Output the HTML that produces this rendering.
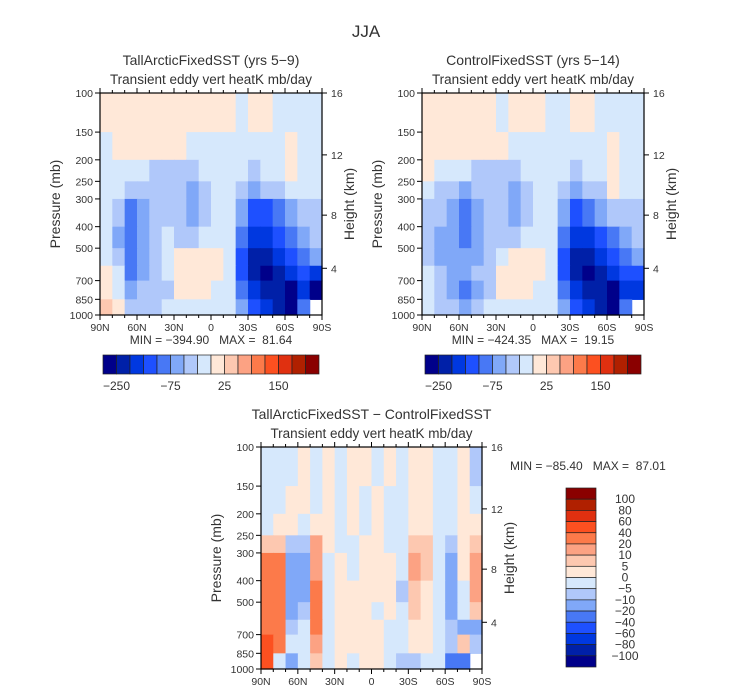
<!DOCTYPE html>
<html><head><meta charset="utf-8"><style>
html,body{margin:0;padding:0;background:#fff;}
svg{display:block;font-family:"Liberation Sans",sans-serif;}
.pre{white-space:pre;}
</style></head><body>
<svg id="fig" width="733" height="693" viewBox="0 0 733 693">
<text x="366" y="37" text-anchor="middle" font-size="17" fill="#333">JJA</text>
</svg>
<script>
// ---------- DATA ----------
const latCenters = ["85N","75N","65N","55N","45N","35N","25N","15N","5N","5S","15S","25S","35S","45S","55S","65S","75S","85S"];
const pressureEdges = [100,150,200,250,300,400,500,600,700,850,1000];
const pressureTicks = [100,150,200,250,300,400,500,700,850,1000];
const heightTicks = [4,8,12,16];
const heightTickPressure = [616,355,190,100];
const latTickLabels = ["90N","60N","30N","0","30S","60S","90S"];
const topLevels = [-250,-200,-150,-100,-75,-50,-25,0,25,50,75,100,150,200,250];
const topLevelLabels = ["-250","-75","25","150"];
const diffLevels = [-100,-80,-60,-40,-20,-10,-5,0,5,10,20,40,60,80,100];
const palette = ["#00008a","#0020a8","#0038e0","#1e50ff","#4878f5","#80a8f8","#b0c8fa","#d6e8fc","#ffe8d8","#fdc8b0","#fca283","#fc7a4a","#fc5020","#e03010","#b02000","#8a0000"];

const tallField = [
 [10,10,10,10,10,10,10,10,10,10,10,-10,10,10,-10,-10,-10,-10],
 [-10,10,10,10,10,10,10,-10,-10,-10,-10,-10,-10,-10,-10,10,-10,-10],
 [-10,-10,-10,-10,-40,-40,-40,-40,-10,-10,-10,-10,-40,-10,-10,10,-10,-10],
 [-10,-10,-40,-40,-40,-40,-40,-60,-40,-10,-10,-40,-60,-40,-40,-10,-10,-10],
 [-10,-40,-90,-60,-40,-40,-40,-60,-40,-10,-10,-60,-120,-120,-90,-60,-40,-40],
 [-10,-60,-90,-60,-40,-10,-40,-40,-10,-10,-10,-90,-170,-170,-120,-90,-60,-40],
 [-10,-40,-90,-60,-40,-10,10,10,10,10,-10,-120,-220,-220,-170,-120,-90,-60],
 [10,-10,-90,-60,-40,-10,10,10,10,10,-10,-120,-220,-300,-220,-170,-120,-170],
 [10,-10,-60,-40,-40,-40,10,10,10,-10,-10,-90,-170,-220,-220,-300,-170,-300],
 [40,10,-40,-40,-40,-10,-10,-10,-10,-10,-10,-60,-120,-170,-220,-300,-90,null]
];
const controlField = [
 [10,10,10,10,10,10,-10,10,10,10,-10,-10,10,10,-10,-10,-10,-10],
 [10,10,10,10,10,10,10,-10,-10,-10,-10,-10,-10,-10,-10,10,-10,-10],
 [10,-10,-10,-10,-40,-40,-40,-40,-10,-10,-10,-10,-40,-10,-10,10,-10,-10],
 [-10,-40,-40,-60,-40,-40,-40,-60,-40,-10,-10,-40,-60,-40,-40,10,-10,-10],
 [-40,-40,-60,-90,-60,-40,-40,-60,-40,-10,-10,-60,-120,-90,-60,-40,-40,-40],
 [-40,-60,-60,-90,-60,-40,-40,-40,-10,-10,-10,-90,-170,-170,-120,-90,-60,-40],
 [-40,-60,-60,-60,-60,-40,-10,10,10,10,-10,-120,-220,-220,-170,-120,-90,-60],
 [-10,-40,-60,-60,-40,-40,10,10,10,10,-10,-120,-220,-300,-220,-170,-120,-120],
 [-10,-40,-60,-90,-60,-40,10,10,10,-10,-10,-90,-170,-220,-220,-300,-170,-170],
 [-10,-40,-40,-60,-40,-10,-10,-10,-10,-10,-10,-60,-120,-170,-220,-300,-90,null]
];
const diffField = [
 [-3,-3,-3,3,-3,3,-3,3,3,-3,3,-3,3,3,-3,-3,3,-7],
 [-3,-3,3,3,-3,3,-3,3,-3,3,-3,-3,3,3,-3,-3,3,-3],
 [-3,3,3,-3,3,3,-3,3,-3,3,-3,-3,3,3,-3,-3,3,3],
 [7,7,-7,-7,15,3,-3,-3,3,3,-3,-3,7,7,-3,-7,3,7],
 [30,30,-15,-15,15,-3,3,-3,3,3,3,-3,15,7,-3,-15,3,15],
 [30,30,-15,-15,30,-3,3,3,3,3,3,-7,7,3,-3,-15,-3,15],
 [30,30,-15,-7,30,-3,3,3,3,-3,3,-3,7,3,-3,-15,-3,7],
 [30,30,-7,-3,30,-3,3,3,3,3,-3,-3,3,3,-3,-7,-15,-15],
 [50,30,-3,-3,15,-3,3,3,3,3,-3,-3,3,3,-3,-7,7,-7],
 [50,-3,-15,-3,7,-3,3,-3,3,3,-3,-7,-7,-3,-3,-30,-30,null]
];

// ---------- DRAW ----------
const NS="http://www.w3.org/2000/svg";
const svg=document.getElementById('fig');
const TXT="#333";
function mk(tag,attrs,parent){const e=document.createElementNS(NS,tag);for(const k in attrs)e.setAttribute(k,attrs[k]);(parent||svg).appendChild(e);return e;}
function colorFor(v,levels){let i=0;while(i<levels.length&&v>=levels[i])i++;return palette[i];}

function panel(P){
  const g=mk('g',{});
  
  
  const W=P.x1-P.x0,H=P.y1-P.y0;
  const xOf=lat=>P.x0+(90-lat)/180*W;
  const yOf=p=>P.y0+(Math.log10(p)-2)*H;
  const latVal=s=>{if(s==="0")return 0;const n=parseFloat(s);return s.endsWith('S')?-n:n;};
  P.field.forEach((row,li)=>{
    row.forEach((v,ci)=>{
      if(v===null)return;
      const c=latVal(latCenters[ci]);
      const xa=xOf(c+5),xb=xOf(c-5);
      const ya=yOf(pressureEdges[li]),yb=yOf(pressureEdges[li+1]);
      const r=mk('rect',{x:xa,y:ya,width:xb-xa+0.6,height:yb-ya+0.6,fill:colorFor(v,P.levels)},g);
      
      
    });
  });
  const fr=mk('rect',{x:P.x0,y:P.y0,width:W,height:H,fill:'none',stroke:'#000','stroke-width':1.2},g);
  
  
  pressureTicks.forEach(p=>{
    const y=yOf(p);
    mk('line',{x1:P.x0-5,x2:P.x0,y1:y,y2:y,stroke:'#000'},g);
    const t=mk('text',{x:P.x0-7,y:y+4,'text-anchor':'end','font-size':10.5,fill:TXT},g);
    t.textContent=p;
    
    
  });
  heightTicks.forEach((h,i)=>{
    const y=yOf(heightTickPressure[i]);
    mk('line',{x1:P.x1,x2:P.x1+5,y1:y,y2:y,stroke:'#000'},g);
    const t=mk('text',{x:P.x1+9,y:y+4,'font-size':10.5,fill:TXT},g);
    t.textContent=h;
    
    
  });
  for(let lat=90;lat>=-90;lat-=10){
    const x=xOf(lat);const major=lat%30===0;
    mk('line',{x1:x,x2:x,y1:P.y1,y2:P.y1+(major?5:3),stroke:'#000'},g);
    mk('line',{x1:x,x2:x,y1:P.y0,y2:P.y0-(major?5:3),stroke:'#000'},g);
  }
  latTickLabels.forEach(s=>{
    const t=mk('text',{x:xOf(latVal(s)),y:P.y1+16,'text-anchor':'middle','font-size':10.5,fill:TXT},g);
    t.textContent=s;
    
    
  });
  const cy=(P.y0+P.y1)/2;
  const ya=mk('text',{x:0,y:0,transform:`translate(${P.x0-40},${cy}) rotate(-90)`,'text-anchor':'middle','font-size':14,fill:TXT},g);
  ya.textContent='Pressure (mb)';
  
  
  const yb=mk('text',{x:0,y:0,transform:`translate(${P.x1+32},${cy}) rotate(-90)`,'text-anchor':'middle','font-size':14,fill:TXT},g);
  yb.textContent='Height (km)';
  
  
  const cx=(P.x0+P.x1)/2;
  const t1=mk('text',{x:cx,y:P.y0-28,'text-anchor':'middle','font-size':14,fill:TXT},g);
  t1.textContent=P.title;
  
  
  const t2=mk('text',{x:cx,y:P.y0-9,'text-anchor':'middle','font-size':13.5,fill:TXT},g);
  t2.textContent='Transient eddy vert heatK mb/day';
  
  
  const mm=mk('text',{x:P.mmx,y:P.mmy,'text-anchor':P.mmAnchor,'font-size':12,fill:TXT,'class':'pre'},g);
  mm.textContent=P.minmax;
  
  
}

function hColorbar(x0,x1,y0,y1,name){
  const g=mk('g',{});
  
  
  const w=(x1-x0)/palette.length;
  palette.forEach((c,i)=>{
    const r=mk('rect',{x:x0+i*w,y:y0,width:w,height:y1-y0,fill:c,stroke:'#222','stroke-width':0.7},g);
    
    
  });
  topLevelLabels.forEach(s=>{
    const idx=topLevels.indexOf(parseFloat(s));
    const t=mk('text',{x:x0+(idx+1)*w,y:y1+16,'text-anchor':'middle','font-size':12,fill:TXT},g);
    t.textContent=s.replace('-','\u2212');
    
    
  });
}

panel({name:'tall-arctic-panel',x0:100,x1:322,y0:93,y1:315,field:tallField,levels:topLevels,
  title:'TallArcticFixedSST (yrs 5\u22129)',minmax:'MIN = \u2212394.90   MAX =  81.64',mmx:211,mmy:344,mmAnchor:'middle'});
panel({name:'control-panel',x0:422,x1:644,y0:93,y1:315,field:controlField,levels:topLevels,
  title:'ControlFixedSST (yrs 5\u221214)',minmax:'MIN = \u2212424.35   MAX =  19.15',mmx:533,mmy:344,mmAnchor:'middle'});
panel({name:'difference-panel',x0:261,x1:482,y0:447,y1:669,field:diffField,levels:diffLevels,
  title:'TallArcticFixedSST \u2212 ControlFixedSST',minmax:'MIN = \u221285.40   MAX =  87.01',mmx:510,mmy:470,mmAnchor:'start'});
hColorbar(103,319,355,374,'tall-arctic-colorbar');
hColorbar(425,641,355,374,'control-colorbar');

(function(){
  const g=mk('g',{});
  
  
  const x0=566,x1=596,y0=488,y1=667,h=(y1-y0)/palette.length;
  for(let i=0;i<palette.length;i++){
    const r=mk('rect',{x:x0,y:y0+i*h,width:x1-x0,height:h,fill:palette[palette.length-1-i],stroke:'#222','stroke-width':0.7},g);
    
    
  }
  diffLevels.slice().reverse().forEach((v,i)=>{
    const t=mk('text',{x:625,y:y0+(i+1)*h+4,'text-anchor':'middle','font-size':12,fill:TXT},g);
    t.textContent=String(v).replace('-','\u2212');
    
    
  });
})();
</script>
</body></html>
